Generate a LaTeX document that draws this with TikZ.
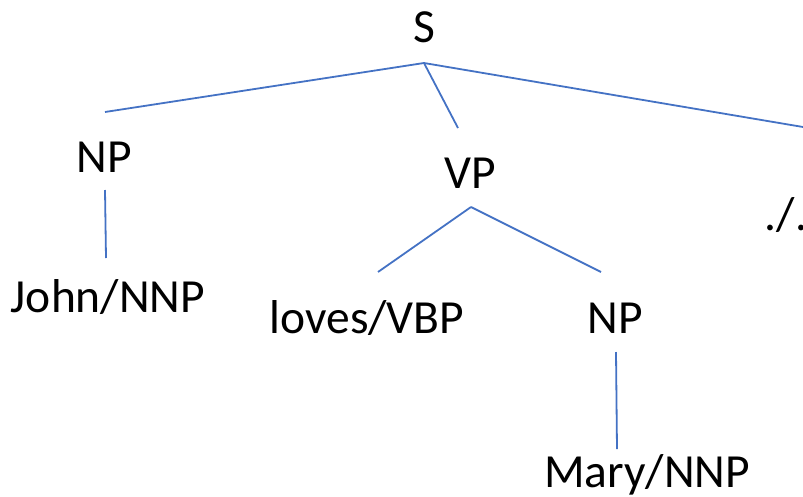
\documentclass[tikz,border=0pt]{standalone}
\usepackage{fontspec}
\setmainfont{Carlito}
\definecolor{edgeblue}{RGB}{68,114,196}
\begin{document}
\begin{tikzpicture}[x=1pt,y=-1pt,
  lbl/.style={inner sep=0pt,anchor=base,font=\fontsize{47.5}{56}\selectfont},
  edge/.style={draw=edgeblue,line width=1.8pt}]
\useasboundingbox (0,0) rectangle (803,496);
% labels
\node[lbl] (S) at (424,42) {S};
\node[lbl] (NPa) at (104,172) {NP};
\node[lbl] (VP) at (470,188) {VP};
\node[lbl] (P) at (786,230) {./.};
\node[lbl] (John) at (108,312) {John/NNP};
\node[lbl] (loves) at (367,333) {loves/VBP};
\node[lbl] (NPb) at (615,333) {NP};
\node[lbl] (Mary) at (647,487) {Mary/NNP};
% connector ends
\coordinate (sS) at (424,63);
\coordinate (tNPa) at (105,112);
\coordinate (tVP) at (458,128);
\coordinate (tP) at (803,127);
\coordinate (sNPa) at (105,190);
\coordinate (tJohn) at (106,258);
\coordinate (sVP) at (471,207);
\coordinate (tloves) at (378,272);
\coordinate (tNPb) at (601,272);
\coordinate (sNPb) at (616,352);
\coordinate (tMary) at (617,449);
% connectors
\draw[edge] (sS) -- (tNPa);
\draw[edge] (sS) -- (tVP);
\draw[edge] (sS) -- (tP);
\draw[edge] (sNPa) -- (tJohn);
\draw[edge] (sVP) -- (tloves);
\draw[edge] (sVP) -- (tNPb);
\draw[edge] (sNPb) -- (tMary);
\end{tikzpicture}
\end{document}
